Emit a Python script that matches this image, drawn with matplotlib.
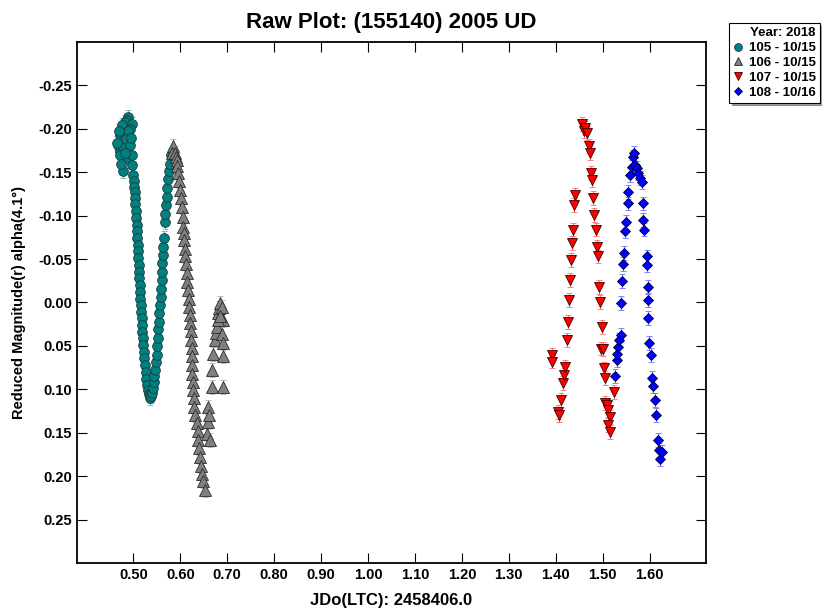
import numpy as np
import matplotlib
matplotlib.use("Agg")
import matplotlib.pyplot as plt

plt.rcParams['font.family'] = ['Liberation Sans', 'DejaVu Sans']
plt.rcParams['font.weight'] = 'bold'

# session 105 - 10/15 (teal circles)
x105 = [0.489, 0.486, 0.482, 0.475, 0.497, 0.492, 0.472, 0.478, 0.489, 0.485,
        0.468, 0.471, 0.479, 0.493, 0.472, 0.466, 0.489, 0.479, 0.497, 0.497,
        0.474, 0.495, 0.483, 0.470,
        0.500, 0.501, 0.502, 0.503, 0.503, 0.504, 0.505, 0.506, 0.507, 0.507,
        0.508, 0.509, 0.509, 0.510, 0.511, 0.512, 0.513, 0.514, 0.515, 0.515,
        0.516, 0.517, 0.518, 0.518, 0.519, 0.520, 0.521, 0.522, 0.523, 0.524,
        0.526, 0.527, 0.529, 0.531, 0.533, 0.535, 0.535, 0.537,
        0.539, 0.541, 0.543, 0.545, 0.546, 0.548, 0.550, 0.551, 0.552, 0.553,
        0.554, 0.555, 0.557, 0.558, 0.559, 0.560, 0.561, 0.562, 0.563, 0.564,
        0.565, 0.567, 0.568, 0.570, 0.571, 0.572, 0.574, 0.576, 0.578, 0.580]
y105 = [-0.214, -0.210, -0.208, -0.204, -0.206, -0.200, -0.193, -0.195, -0.197, -0.188,
        -0.181, -0.175, -0.178, -0.181, -0.170, -0.184, -0.166, -0.151, -0.170, -0.158,
        -0.160, -0.190, -0.172, -0.198,
        -0.147, -0.140, -0.133, -0.127, -0.120, -0.113, -0.105, -0.097, -0.089, -0.082,
        -0.074, -0.066, -0.059, -0.051, -0.043, -0.035, -0.028, -0.020, -0.012, -0.004,
        0.003, 0.011, 0.018, 0.026, 0.034, 0.041, 0.049, 0.057, 0.064, 0.072,
        0.080, 0.088, 0.095, 0.101, 0.105, 0.107, 0.110, 0.108,
        0.104, 0.099, 0.092, 0.085, 0.078, 0.069, 0.060, 0.050, 0.041, 0.031,
        0.022, 0.012, 0.003, -0.006, -0.016, -0.026, -0.035, -0.045, -0.055, -0.064,
        -0.074, -0.093, -0.102, -0.112, -0.122, -0.132, -0.142, -0.151, -0.160, -0.170]

# session 106 - 10/15 (grey triangles)
x106 = [0.585, 0.582, 0.588, 0.590, 0.592, 0.594, 0.596, 0.598, 0.599, 0.601,
        0.603, 0.605, 0.606, 0.607, 0.608, 0.609, 0.610, 0.612, 0.614, 0.615,
        0.617, 0.618, 0.619, 0.620, 0.621, 0.622, 0.623, 0.624, 0.624, 0.625,
        0.626, 0.627, 0.628, 0.629, 0.630, 0.632, 0.635, 0.637, 0.638, 0.640,
        0.642, 0.644, 0.646, 0.649, 0.653,
        0.656, 0.660, 0.658, 0.663, 0.661,
        0.667, 0.667, 0.670, 0.674, 0.676, 0.678, 0.681, 0.683, 0.685, 0.688,
        0.692, 0.688, 0.692, 0.692, 0.692, 0.680, 0.684]
y106 = [-0.180, -0.172, -0.172, -0.168, -0.164, -0.157, -0.149, -0.140, -0.130, -0.120,
        -0.110, -0.098, -0.087, -0.080, -0.072, -0.062, -0.053, -0.044, -0.034, -0.024,
        -0.014, -0.004, 0.005, 0.014, 0.024, 0.033, 0.043, 0.052, 0.062, 0.072,
        0.082, 0.091, 0.101, 0.110, 0.120, 0.130, 0.139, 0.148, 0.158, 0.168,
        0.178, 0.188, 0.197, 0.206, 0.216,
        0.151, 0.120, 0.138, 0.158, 0.130,
        0.097, 0.078, 0.059, 0.043, 0.035, 0.028, 0.012, 0.006, 0.001, 0.005,
        0.020, 0.036, 0.047, 0.062, 0.097, 0.020, 0.015]

# session 107 - 10/15 (red down triangles)
x107 = [1.391, 1.391, 1.405, 1.407, 1.412, 1.415, 1.418, 1.420, 1.423, 1.425,
        1.429, 1.430, 1.432, 1.435, 1.436, 1.439, 1.440, 1.455, 1.459, 1.462,
        1.466, 1.471, 1.473, 1.474, 1.477, 1.480, 1.481, 1.485, 1.487, 1.489,
        1.492, 1.494, 1.498, 1.496, 1.500, 1.503, 1.505, 1.505, 1.508, 1.512,
        1.515, 1.512, 1.515, 1.524]
y107 = [0.060, 0.068, 0.126, 0.130, 0.112, 0.093, 0.084, 0.074, 0.043, 0.022,
        -0.003, -0.026, -0.049, -0.068, -0.084, -0.112, -0.124, -0.206, -0.197, -0.201,
        -0.195, -0.180, -0.172, -0.149, -0.141, -0.120, -0.101, -0.084, -0.064, -0.053,
        -0.018, -0.001, 0.028, 0.053, 0.054, 0.076, 0.087, 0.116, 0.118, 0.124,
        0.132, 0.141, 0.149, 0.103]

# session 108 - 10/16 (blue diamonds)
x108 = [1.526, 1.530, 1.531, 1.533, 1.535, 1.538, 1.539, 1.542, 1.544, 1.545,
        1.547, 1.549, 1.554, 1.554, 1.558, 1.562, 1.565, 1.567, 1.569, 1.572,
        1.576, 1.579, 1.583, 1.585, 1.586, 1.588, 1.594, 1.594, 1.597, 1.597,
        1.597, 1.599, 1.603, 1.605, 1.607, 1.611, 1.614, 1.618, 1.620, 1.622,
        1.626]
y108 = [0.085, 0.066, 0.059, 0.051, 0.043, 0.037, 0.001, -0.025, -0.044, -0.057,
        -0.082, -0.093, -0.114, -0.127, -0.147, -0.156, -0.168, -0.172, -0.158, -0.155,
        -0.149, -0.143, -0.139, -0.114, -0.095, -0.084, -0.053, -0.043, -0.018, -0.003,
        0.018, 0.047, 0.060, 0.087, 0.096, 0.112, 0.130, 0.158, 0.170, 0.180,
        0.172]

err = 0.008

fig = plt.figure(figsize=(8.22, 6.13), dpi=100)
ax = fig.add_axes([0.0937, 0.0816, 0.7652, 0.8499])

ax.errorbar(x105, y105, yerr=err, fmt='o', color='#008080', ecolor='#66b2b2',
            mec='#1a3a3a', mew=0.6, ms=7, capsize=2, elinewidth=0.8, label='105 - 10/15')
ax.errorbar(x106, y106, yerr=err, fmt='^', color='#808080', ecolor='#b0b0b0',
            mec='#2a2a2a', mew=0.6, ms=8, capsize=2, elinewidth=0.8, label='106 - 10/15')
ax.errorbar(x107, y107, yerr=err, fmt='v', color='#ff0000', ecolor='#ff7070',
            mec='#3a0000', mew=0.6, ms=7.5, capsize=2.5, elinewidth=0.8, label='107 - 10/15')
ax.errorbar(x108, y108, yerr=err, fmt='D', color='#0000ff', ecolor='#7070ff',
            mec='#00003a', mew=0.6, ms=5.5, capsize=2.5, elinewidth=0.8, label='108 - 10/16')

ax.set_xlim(0.38, 1.72)
ax.set_ylim(0.30, -0.30)
ax.set_xticks(np.arange(0.5, 1.65, 0.1))
ax.set_xticklabels(['%.2f' % v for v in np.arange(0.5, 1.65, 0.1)])
ax.set_yticks(np.arange(-0.25, 0.26, 0.05))
ax.set_yticklabels(['%.2f' % (v + 0.0) for v in np.round(np.arange(-0.25, 0.26, 0.05), 2)])
ax.tick_params(direction='in', top=True, right=True, length=7, width=0.8,
               labelsize=10.5)
for lab in ax.get_xticklabels() + ax.get_yticklabels():
    lab.set_fontweight('bold')
for s in ax.spines.values():
    s.set_linewidth(1.3)

ax.set_title('Raw Plot: (155140) 2005 UD', fontsize=16, fontweight='bold', pad=10)
ax.set_xlabel('JDo(LTC): 2458406.0', fontsize=12, fontweight='bold', labelpad=8)
ax.set_ylabel('Reduced Magnitude(r) alpha(4.1°)', fontsize=10.5, fontweight='bold',
              labelpad=9)

handles, labels = ax.get_legend_handles_labels()
handles = [h[0] for h in handles]
leg = fig.legend(handles, labels, title='Year: 2018', loc='upper right',
                 bbox_to_anchor=(0.997, 0.962), frameon=True, shadow=True,
                 fancybox=False, prop={'weight': 'bold', 'size': 9.5},
                 title_fontproperties={'weight': 'bold', 'size': 9.5},
                 handlelength=0.8, handletextpad=0.4, borderpad=0.3,
                 labelspacing=0.2, borderaxespad=0, markerscale=0.8)
leg._legend_box.align = 'right'
leg.get_frame().set_edgecolor('black')
leg.get_frame().set_linewidth(0.8)

fig.savefig('out.png', dpi=100)
